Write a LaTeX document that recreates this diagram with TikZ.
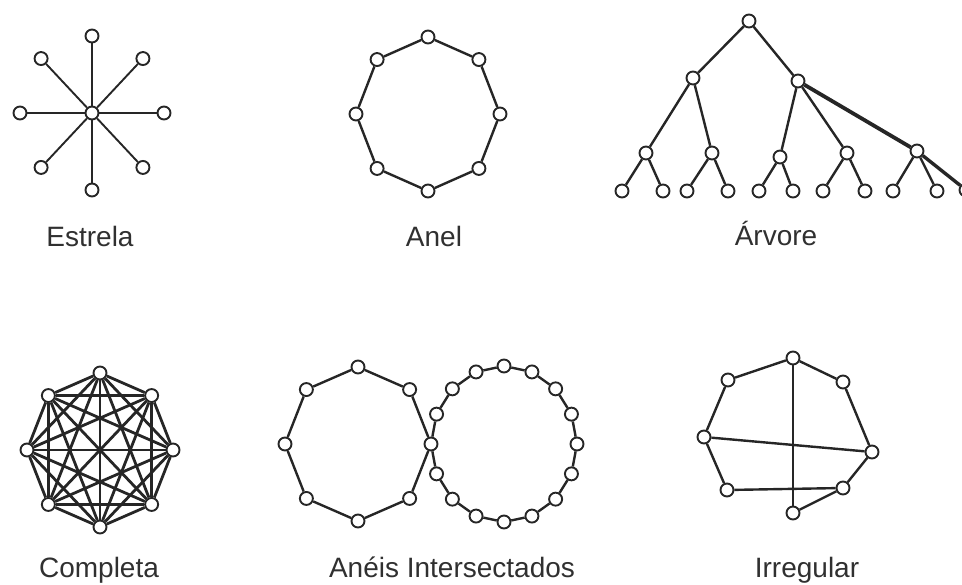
\documentclass[tikz,border=0pt]{standalone}
\usepackage{fontspec}
\setmainfont{Liberation Sans}
\usetikzlibrary{positioning}
\definecolor{inkGray}{HTML}{262626}
\definecolor{textGray}{HTML}{303030}

\tikzset{
  vtx/.style={circle, draw=inkGray, fill=white, line width=1.9pt, minimum size=13pt, inner sep=0pt},
  lnk/.style={draw=inkGray, line width=2.4pt},
  spoke/.style={draw=inkGray, line width=1.9pt},
  caption/.style={anchor=base, text=textGray, font=\fontsize{28}{30}\selectfont}
}

\begin{document}
\begin{tikzpicture}[x=1pt, y=-1pt]
  \clip (0,0) rectangle (962,585);
  % Top row: star, ring and tree, each with its caption below.
  \node[vtx] (s0) at (92,113) {};
  \foreach \k in {1,...,8} {
    \node[vtx] (s\k) at ({92+72*cos(45*\k)}, {113-77*sin(45*\k)}) {};
    \draw[spoke] (s0) -- (s\k);
  }
  \node[caption] (capStar) at (90,247) {Estrela};

  \foreach \k in {1,...,8}
    \node[vtx] (a\k) at ({428+72*cos(45*\k)}, {114-77*sin(45*\k)}) {};
  \foreach \k in {1,...,8} {
    \pgfmathtruncatemacro\nxt{mod(\k,8)+1}
    \draw[lnk] (a\k) -- (a\nxt);
  }
  \node[caption] (capRing) at (434,247) {Anel};

  \node[vtx] (t) at (749,21) {};
  \foreach \n/\x/\y in {t1/693/78, t2/798/81, t11/646/153, t12/712/153, t21/780/157,
      t22/847/153, t23/917/151, t111/622/191, t112/663/191, t121/687/191, t122/728/191,
      t211/759/191, t212/793/191, t221/823/191, t222/865/191, t231/893/191, t232/937/191,
      t233/966/190}
    \node[vtx] (\n) at (\x,\y) {};
  \foreach \p/\c in {t/t1, t/t2, t1/t11, t1/t12, t2/t21, t2/t22, t11/t111, t11/t112,
      t12/t121, t12/t122, t21/t211, t21/t212, t22/t221, t22/t222, t23/t231, t23/t232}
    \draw[lnk] (\p) -- (\c);
  \draw[lnk, line width=3.8pt] (t2) -- (t23);
  \draw[lnk, line width=3.4pt] (t23) -- (t233);
  \node[caption] (capTree) at (776,246) {Árvore};

  % Bottom row: complete graph, two rings sharing one node, irregular graph.
  \foreach \k in {1,...,8}
    \node[vtx] (c\k) at ({100+73*cos(45*\k)}, {450-77*sin(45*\k)}) {};
  \foreach \i in {1,...,8}
    \foreach \j in {1,...,8} {
      \ifnum\i<\j \draw[lnk, line width=2.8pt] (c\i) -- (c\j); \fi
    }
  \node[caption] (capFull) at (99,577) {Completa};

  % r8 is the node the two rings share
  \foreach \k in {1,...,16}
    \node[vtx] (r\k) at ({504+73*cos(22.5*\k)}, {444-78*sin(22.5*\k)}) {};
  \foreach \k in {1,...,7}
    \node[vtx] (l\k) at ({358+73*cos(45*\k)}, {444-77*sin(45*\k)}) {};
  \foreach \k in {1,...,6} {
    \pgfmathtruncatemacro\nxt{\k+1}
    \draw[lnk] (l\k) -- (l\nxt);
  }
  \draw[lnk] (r8) -- (l1);
  \draw[lnk] (l7) -- (r8);
  \foreach \k in {1,...,16} {
    \pgfmathtruncatemacro\nxt{mod(\k,16)+1}
    \draw[lnk] (r\k) -- (r\nxt);
  }
  \node[caption] (capTwin) at (452,577) {Anéis Intersectados};

  \foreach \n/\x/\y in {g1/793/358, g2/728/380, g3/843/382, g4/704/437, g5/872/452,
      g6/727/490, g7/843/488, g8/793/513}
    \node[vtx] (\n) at (\x,\y) {};
  \foreach \p/\c in {g2/g1, g1/g3, g3/g5, g5/g7, g7/g8, g2/g4, g4/g6, g6/g7, g1/g8, g4/g5}
    \draw[lnk] (\p) -- (\c);
  \node[caption] (capOdd) at (807,577) {Irregular};
\end{tikzpicture}
\end{document}
